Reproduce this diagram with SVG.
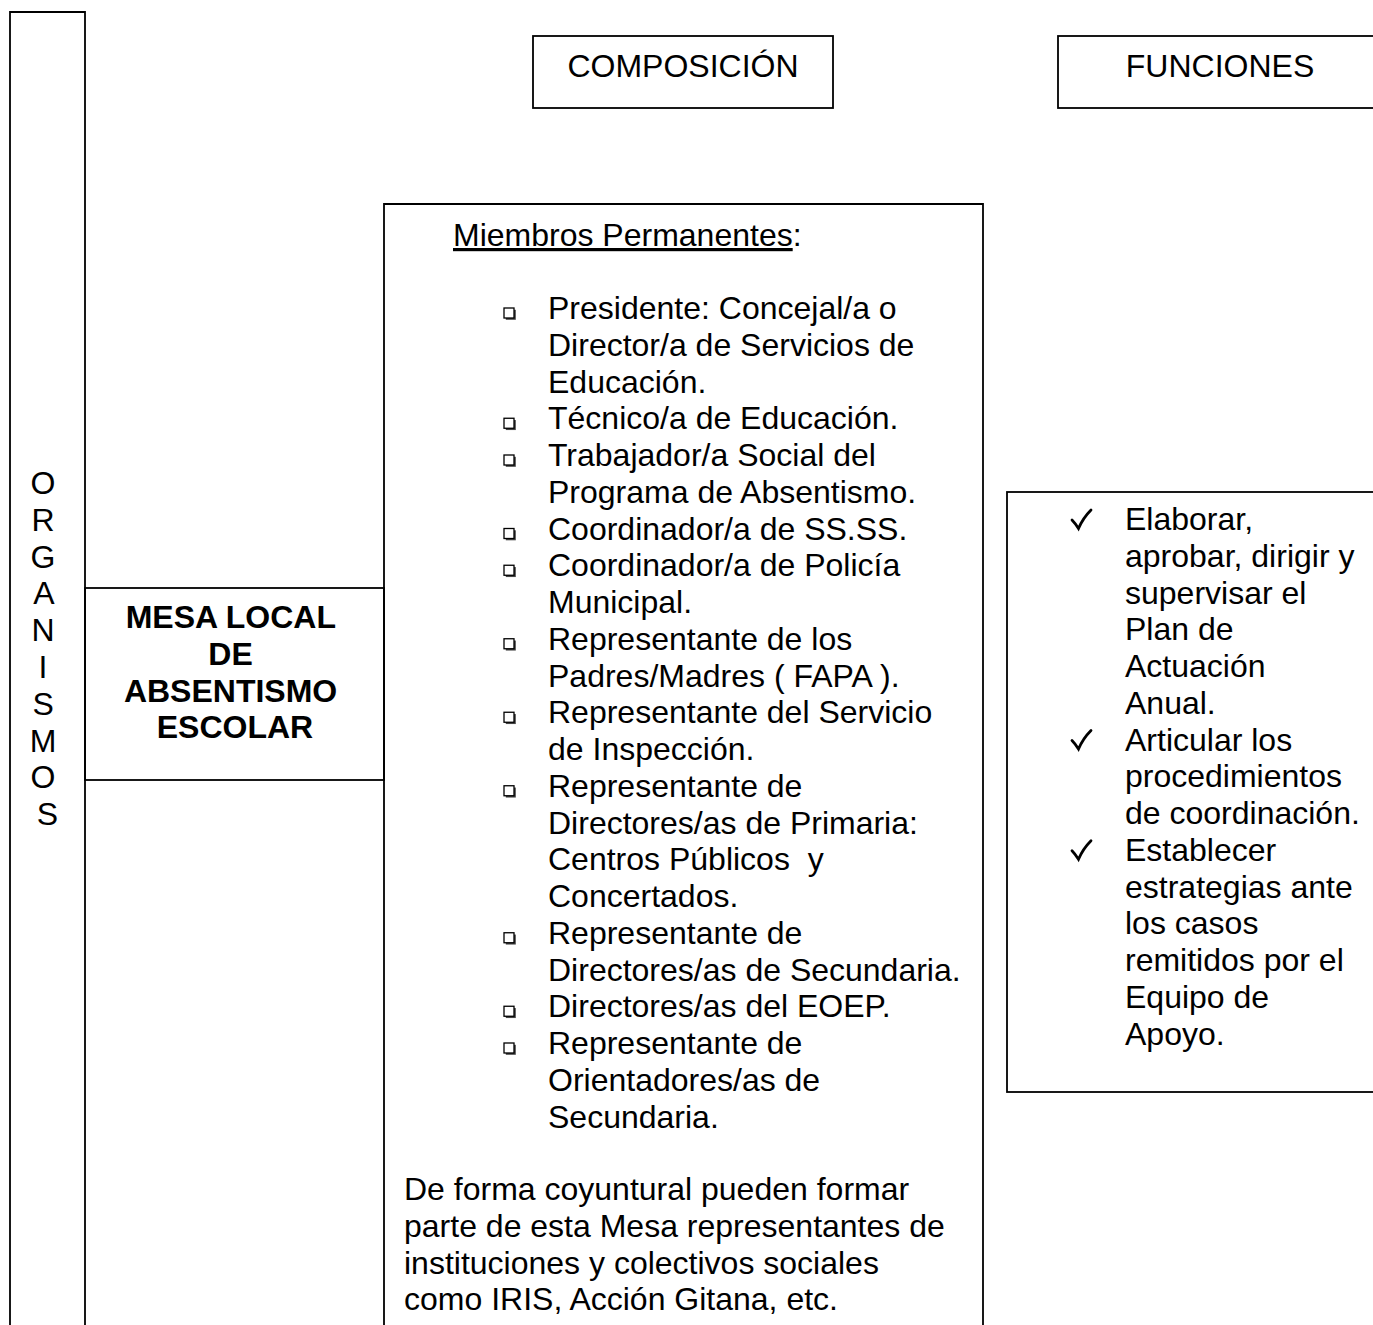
<svg xmlns="http://www.w3.org/2000/svg" xmlns:xlink="http://www.w3.org/1999/xlink" width="1373" height="1325" viewBox="0 0 1373 1325">
<style>
.box{fill:none;stroke:#000;stroke-width:1.8}
.t{font-family:"Liberation Sans",Arial,sans-serif;font-size:32px;fill:#000}
.b{font-weight:bold}
.c{text-anchor:middle}
</style>
<defs>
<g id="bul">
<rect x="1.8" y="1.8" width="10" height="10" fill="#444"/>
<rect x="0" y="0" width="10" height="10" fill="#fff" stroke="#000" stroke-width="1.3"/>
</g>
<path id="chk" d="M0,10 Q3,13 6.5,18.5 Q11,8 19,0" fill="none" stroke="#000" stroke-width="2.8" stroke-linejoin="miter" stroke-linecap="round"/>
</defs>
<rect width="1373" height="1325" fill="#fff"/>

<g id="organismos">
<path class="box" d="M10,1330 V12 H85 V1330"/>
<text class="t c" x="47.5">
<tspan x="47.5" y="494">O</tspan>
<tspan x="47.5" y="530.8">R</tspan>
<tspan x="47.5" y="567.6">G</tspan>
<tspan x="47.5" y="604.4">A</tspan>
<tspan x="47.5" y="641.2">N</tspan>
<tspan x="47.5" y="678">I</tspan>
<tspan x="47.5" y="714.8">S</tspan>
<tspan x="47.5" y="751.6">M</tspan>
<tspan x="47.5" y="788.4">O</tspan>
<tspan x="47.5" y="825.2">S</tspan>
</text>
</g>

<g id="mesa">
<rect class="box" x="85" y="588" width="299" height="192"/>
<text class="t b c">
<tspan x="235" y="628">MESA LOCAL</tspan>
<tspan x="235" y="664.8">DE</tspan>
<tspan x="235" y="701.5">ABSENTISMO</tspan>
<tspan x="235" y="738.3">ESCOLAR</tspan>
</text>
</g>

<g id="composicion-header">
<rect class="box" x="533" y="36" width="300" height="72"/>
<text class="t c" x="683" y="77">COMPOSICIÓN</text>
</g>

<g id="funciones-header">
<rect class="box" x="1058" y="36" width="330" height="72"/>
<text class="t c" x="1220" y="77">FUNCIONES</text>
</g>

<g id="composicion">
<path class="box" d="M384,1330 V204 H983 V1330"/>
<text class="t" x="453" y="246"><tspan text-decoration="underline">Miembros Permanentes</tspan>:</text>
<use xlink:href="#bul" x="504" y="308"/>
<use xlink:href="#bul" x="504" y="418.25"/>
<use xlink:href="#bul" x="504" y="455"/>
<use xlink:href="#bul" x="504" y="528.5"/>
<use xlink:href="#bul" x="504" y="565.25"/>
<use xlink:href="#bul" x="504" y="638.75"/>
<use xlink:href="#bul" x="504" y="712.25"/>
<use xlink:href="#bul" x="504" y="785.75"/>
<use xlink:href="#bul" x="504" y="932.75"/>
<use xlink:href="#bul" x="504" y="1006.25"/>
<use xlink:href="#bul" x="504" y="1043"/>
<text class="t" xml:space="preserve">
<tspan x="548" y="319">Presidente: Concejal/a o</tspan>
<tspan x="548" y="355.75">Director/a de Servicios de</tspan>
<tspan x="548" y="392.5">Educación.</tspan>
<tspan x="548" y="429.25">Técnico/a de Educación.</tspan>
<tspan x="548" y="466">Trabajador/a Social del</tspan>
<tspan x="548" y="502.75">Programa de Absentismo.</tspan>
<tspan x="548" y="539.5">Coordinador/a de SS.SS.</tspan>
<tspan x="548" y="576.25">Coordinador/a de Policía</tspan>
<tspan x="548" y="613">Municipal.</tspan>
<tspan x="548" y="649.75">Representante de los</tspan>
<tspan x="548" y="686.5">Padres/Madres ( FAPA ).</tspan>
<tspan x="548" y="723.25">Representante del Servicio</tspan>
<tspan x="548" y="760">de Inspección.</tspan>
<tspan x="548" y="796.75">Representante de</tspan>
<tspan x="548" y="833.5">Directores/as de Primaria:</tspan>
<tspan x="548" y="870.25">Centros Públicos  y</tspan>
<tspan x="548" y="907">Concertados.</tspan>
<tspan x="548" y="943.75">Representante de</tspan>
<tspan x="548" y="980.5">Directores/as de Secundaria.</tspan>
<tspan x="548" y="1017.25">Directores/as del EOEP.</tspan>
<tspan x="548" y="1054">Representante de</tspan>
<tspan x="548" y="1090.75">Orientadores/as de</tspan>
<tspan x="548" y="1127.5">Secundaria.</tspan>
<tspan x="404" y="1200">De forma coyuntural pueden formar</tspan>
<tspan x="404" y="1236.75">parte de esta Mesa representantes de</tspan>
<tspan x="404" y="1273.5">instituciones y colectivos sociales</tspan>
<tspan x="404" y="1310.25">como IRIS, Acción Gitana, etc.</tspan>
</text>
</g>

<g id="funciones">
<rect class="box" x="1007" y="492" width="380" height="600"/>
<use xlink:href="#chk" x="1072" y="510"/>
<use xlink:href="#chk" x="1072" y="730.5"/>
<use xlink:href="#chk" x="1072" y="840.75"/>
<text class="t">
<tspan x="1125" y="530">Elaborar,</tspan>
<tspan x="1125" y="566.75">aprobar, dirigir y</tspan>
<tspan x="1125" y="603.5">supervisar el</tspan>
<tspan x="1125" y="640.25">Plan de</tspan>
<tspan x="1125" y="677">Actuación</tspan>
<tspan x="1125" y="713.75">Anual.</tspan>
<tspan x="1125" y="750.5">Articular los</tspan>
<tspan x="1125" y="787.25">procedimientos</tspan>
<tspan x="1125" y="824">de coordinación.</tspan>
<tspan x="1125" y="860.75">Establecer</tspan>
<tspan x="1125" y="897.5">estrategias ante</tspan>
<tspan x="1125" y="934.25">los casos</tspan>
<tspan x="1125" y="971">remitidos por el</tspan>
<tspan x="1125" y="1007.75">Equipo de</tspan>
<tspan x="1125" y="1044.5">Apoyo.</tspan>
</text>
</g>
</svg>
